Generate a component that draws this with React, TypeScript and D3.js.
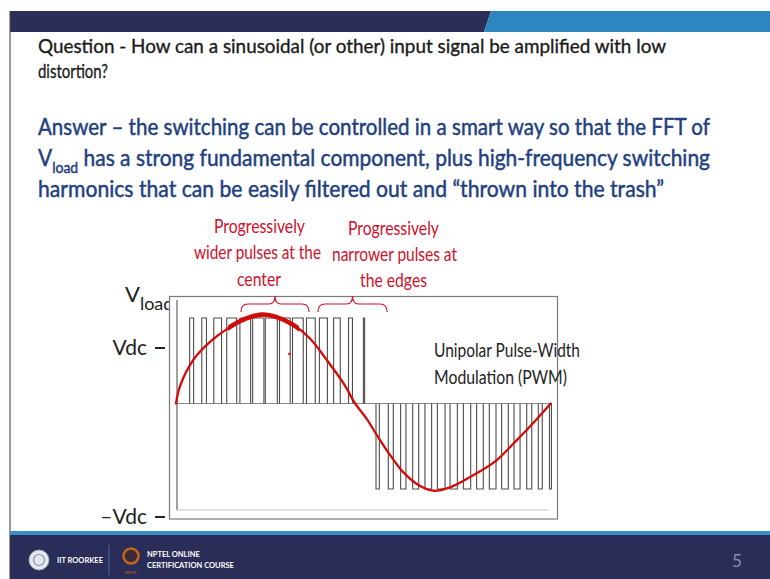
import React from "react";
import * as d3 from "d3";

const W = 770;
const H = 579;

// Output cycle phase in degrees; values in units of Vdc.
const posPulseCenters = [15, 27, 40, 53.5, 66.5, 79, 91.5, 104.5, 117, 129.5, 141.5, 154.5, 167.5, 180.5];
const posPulseWidths = [3.8, 4.5, 7.4, 9.6, 10.3, 10.8, 11.5, 10.3, 10.3, 8.4, 7.7, 6.4, 3.8, 1.2];
const negPulseCenters = [193.6, 206.2, 218.2, 230.1, 242.2, 254.6, 266.6, 279.4, 291.8, 304, 315.8, 327.4, 339.1, 349.7, 359.5];
const negPulseWidths = [3.2, 4.8, 5.1, 5.8, 6.4, 7.4, 7.0, 7.0, 6.4, 6.4, 6.4, 5.8, 4.8, 3.8, 1.9];

// Hand-drawn reference sinusoid
const refPhase = [0, 3.8, 16.6, 32.6, 48.7, 64.6, 82.3, 96.7, 112.6, 128.6, 144.7, 160.6, 172, 183.1, 193.9, 205.4, 217.9, 232.3, 246.7, 263, 282.2, 306.2, 325.4, 339.8, 359.7];
const refValue = [0, 0.2, 0.51, 0.72, 0.87, 0.98, 1.04, 1.01, 0.92, 0.76, 0.51, 0.24, 0, -0.18, -0.39, -0.6, -0.8, -0.95, -1.02, -0.98, -0.86, -0.68, -0.45, -0.27, 0];

// Pen emphasis near the crest, and a stray pen dot
const penHeavyRange = [50, 118];
const penDotPhase = [108.8];
const penDotValue = [0.58];

// Axis labels
const tickValues = [1, -1];
const tickLabels = ["Vdc", "\u2013Vdc"];

// Brace spans (phase, degrees)
const braceStarts = [62.4, 136.3];
const braceEnds = [127.7, 202.6];

const FONT = "Lato, 'Open Sans', 'DejaVu Sans', sans-serif";
const RED = "#d0112b";
const BLUE = "#1f3f7f";

function bracePath(x0: number, x1: number, yMid: number) {
  const xm = (x0 + x1) / 2;
  const yEnd = yMid + 8;
  const yTip = yMid - 8;
  return [
    `M${x0},${yEnd}`,
    `Q${x0},${yMid} ${x0 + 7},${yMid}`,
    `L${xm - 6},${yMid}`,
    `Q${xm},${yMid} ${xm},${yTip}`,
    `Q${xm},${yMid} ${xm + 6},${yMid}`,
    `L${x1 - 7},${yMid}`,
    `Q${x1},${yMid} ${x1},${yEnd}`,
  ].join(" ");
}

export default function App() {
  const x = d3.scaleLinear().domain([0, 360]).range([176, 551]);
  const y = d3.scaleLinear().domain([-1, 1]).range([489, 318]);
  const labelY = d3.scaleLinear().domain([-1, 1]).range([517, 348]);

  const y0 = y(0);
  const refPoints: [number, number][] = refPhase.map((p, i) => [p, refValue[i]]);
  const line = d3
    .line<[number, number]>()
    .x((d) => x(d[0]))
    .y((d) => y(d[1]))
    .curve(d3.curveCatmullRom.alpha(0.5));
  const refD = line(refPoints) || "";

  const pulse = (c: number, w: number, v: number) => {
    const a = x(c - w / 2);
    const b = x(c + w / 2);
    return `M${a},${y0} V${y(v)} H${b} V${y0}`;
  };

  return (
    <svg
      width={W}
      height={H}
      viewBox={`0 0 ${W} ${H}`}
      style={{ position: "absolute", left: 0, top: 0, background: "#fff" }}
      fontFamily={FONT}
    >
      <defs>
        <clipPath id="heavy">
          <rect x={x(penHeavyRange[0])} y={280} width={x(penHeavyRange[1]) - x(penHeavyRange[0])} height={60} />
        </clipPath>
      </defs>
      <rect x={0} y={0} width={W} height={H} fill="#fff" />

      {/* header band */}
      <polygon points={`10,11 491,11 484,32 10,32`} fill="#2b2f57" />
      <polygon points={`491,11 ${W},11 ${W},32 484,32`} fill="#2e86c1" />
      <line x1={10} y1={11} x2={10} y2={H} stroke="#555" strokeWidth={1.2} />

      {/* question */}
      <g fontSize={20} fill="#1a1a1a" stroke="#1a1a1a" strokeWidth={0.35}>
        <text x={38} y={53} textLength={628} lengthAdjust="spacingAndGlyphs">
          Question - How can a sinusoidal (or other) input signal be amplified with low
        </text>
        <text x={38} y={78} textLength={70} lengthAdjust="spacingAndGlyphs">
          distortion?
        </text>
      </g>

      {/* answer */}
      <g fontSize={24} fill={BLUE} stroke={BLUE} strokeWidth={0.5}>
        <text x={38} y={135} textLength={672} lengthAdjust="spacingAndGlyphs">
          Answer – the switching can be controlled in a smart way so that the FFT of
        </text>
        <text x={38} y={166} textLength={672} lengthAdjust="spacingAndGlyphs">
          <tspan>V</tspan>
          <tspan dy={7} fontSize={16}>load</tspan>
          <tspan dy={-7}> has a strong fundamental component, plus high-frequency switching</tspan>
        </text>
        <text x={38} y={197} textLength={626} lengthAdjust="spacingAndGlyphs">
          harmonics that can be easily filtered out and “thrown into the trash”
        </text>
      </g>

      {/* red callouts */}
      <g fill={RED} fontSize={19} textAnchor="middle">
        <text x={259.5} y={233} textLength={91} lengthAdjust="spacingAndGlyphs">Progressively</text>
        <text x={257.5} y={259} textLength={127} lengthAdjust="spacingAndGlyphs">wider pulses at the</text>
        <text x={259} y={286} textLength={44} lengthAdjust="spacingAndGlyphs">center</text>
        <text x={393.5} y={235} textLength={91} lengthAdjust="spacingAndGlyphs">Progressively</text>
        <text x={394.5} y={261} textLength={125} lengthAdjust="spacingAndGlyphs">narrower pulses at</text>
        <text x={393.5} y={287} textLength={67} lengthAdjust="spacingAndGlyphs">the edges</text>
      </g>

      {/* axis labels */}
      <text x={125} y={302} fontSize={22} fill="#222">
        V<tspan dy={8} fontSize={18}>load</tspan>
      </text>
      {tickValues.map((v, i) => (
        <g key={i}>
          <text x={147} y={labelY(v) + 7} fontSize={21} fill="#222" textAnchor="end">
            {tickLabels[i]}
          </text>
          <line x1={155} x2={165} y1={labelY(v)} y2={labelY(v)} stroke="#222" strokeWidth={2} />
        </g>
      ))}

      {/* plot frame */}
      <rect x={169.5} y={296.5} width={388} height={222.5} fill="#fff" stroke="#7a7a7a" strokeWidth={1.2} />
      <line x1={177} x2={177} y1={300} y2={510} stroke="#555" strokeWidth={1.1} />
      <line x1={177} x2={548} y1={510} y2={510} stroke="#c4c4c4" strokeWidth={1.1} />

      {/* zero line and pulses */}
      <line x1={177} x2={x(360) + 1} y1={y0} y2={y0} stroke="#8a8a8a" strokeWidth={1.1} />
      <g fill="none" stroke="#4d4d4d" strokeWidth={1.1}>
        {posPulseCenters.map((c, i) => (
          <path key={`p${i}`} d={pulse(c, posPulseWidths[i], 1)} />
        ))}
        {negPulseCenters.map((c, i) => (
          <path key={`n${i}`} d={pulse(c, negPulseWidths[i], -1)} />
        ))}
      </g>

      {/* reference sinusoid */}
      <path d={refD} fill="none" stroke="#d40a0a" strokeWidth={2.3} strokeLinecap="round" />
      <path d={refD} fill="none" stroke="#d40a0a" strokeWidth={4.6} clipPath="url(#heavy)" strokeLinecap="round" />
      {penDotPhase.map((p, i) => (
        <circle key={i} cx={x(p)} cy={y(penDotValue[i])} r={1.2} fill="#d40a0a" />
      ))}

      {/* braces */}
      <g fill="none" stroke={RED} strokeWidth={1.2}>
        {braceStarts.map((s, i) => (
          <path key={i} d={bracePath(x(s), x(braceEnds[i]), 304)} />
        ))}
      </g>

      {/* chart caption */}
      <g fill="#222" fontSize={19}>
        <text x={434} y={357} textLength={146} lengthAdjust="spacingAndGlyphs">Unipolar Pulse-Width</text>
        <text x={434} y={384} textLength={133} lengthAdjust="spacingAndGlyphs">Modulation (PWM)</text>
      </g>

      {/* footer */}
      <rect x={10} y={531} width={W - 10} height={4} fill="#3b8ec8" />
      <rect x={10} y={535} width={W - 10} height={H - 535} fill="#2a2d57" />
      <circle cx={39} cy={560} r={10} fill="#e6e8ef" stroke="#9aa" strokeWidth={1} />
      <circle cx={39} cy={560} r={5.5} fill="none" stroke="#8890a8" strokeWidth={1.2} />
      <text x={57} y={563} fontSize={7.5} fontWeight={700} fill="#fff">IIT ROORKEE</text>
      <line x1={109} x2={109} y1={545} y2={575} stroke="#4a6aa0" strokeWidth={1} />
      <circle cx={131} cy={556} r={7.5} fill="#3a2a3a" stroke="#c8651b" strokeWidth={2.5} />
      <text x={131} y={574} fontSize={4} fill="#c8651b" textAnchor="middle">NPTEL</text>
      <text x={147} y={557} fontSize={7.5} fontWeight={700} fill="#fff">NPTEL ONLINE</text>
      <text x={147} y={568} fontSize={7.5} fontWeight={700} fill="#fff">CERTIFICATION COURSE</text>
      <text x={732} y={567} fontSize={17} fill="#8a8fab">5</text>
    </svg>
  );
}
